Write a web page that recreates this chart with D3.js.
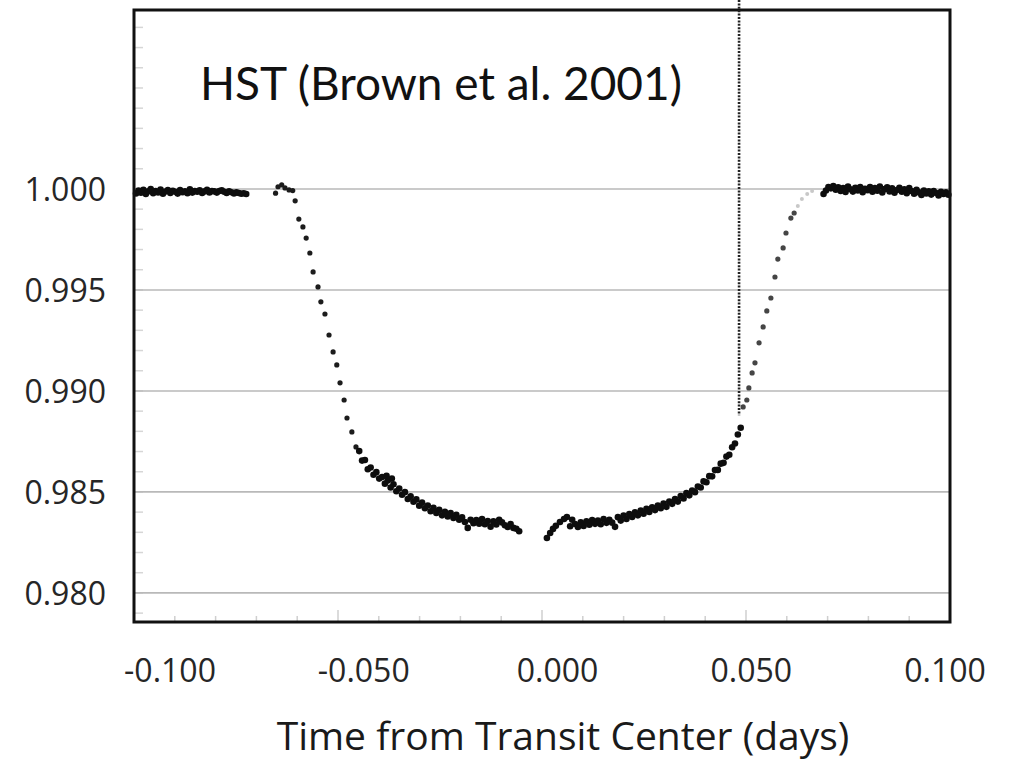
<!DOCTYPE html>
<html>
<head>
<meta charset="utf-8">
<script src="https://cdn.jsdelivr.net/npm/d3@7"></script>
<style>
  body { margin: 0; background: #fff; }
  svg { display: block; }
  .tick-label { font-family: "Open Sans", sans-serif; font-size: 32px; fill: #262626; }
  .axis-title { font-family: "Open Sans", sans-serif; font-size: 39px; fill: #1a1a1a; }
  .panel-title { font-family: Lato, sans-serif; font-size: 46px; fill: #111; }
</style>
</head>
<body>
<div id="chart"></div>
<script>
// tick values
const xTicks = [-0.1, -0.05, 0, 0.05, 0.1];
const yTicks = [0.980, 0.985, 0.990, 0.995, 1.000];

// marker (dotted line) at time / flux where it meets the curve
const markerTime = 0.0483;
const markerFlux = 0.9888;

// HST visit 1: out of transit before ingress [time, flux]
const preTransit = [
  [-0.0995, 0.99978], [-0.0989, 0.99992], [-0.0983, 0.99981], [-0.0977, 0.99996], [-0.0971, 0.99975],
  [-0.0965, 0.99988], [-0.0959, 0.99999], [-0.0953, 0.99979], [-0.0947, 0.99990], [-0.0941, 0.99983],
  [-0.0935, 0.99997], [-0.0929, 0.99976], [-0.0923, 0.99987], [-0.0917, 0.99994], [-0.0911, 0.99980],
  [-0.0905, 0.99991], [-0.0899, 0.99986], [-0.0893, 0.99977], [-0.0887, 0.99995], [-0.0881, 0.99984],
  [-0.0875, 0.99989], [-0.0869, 0.99979], [-0.0863, 0.99998], [-0.0857, 0.99982], [-0.0851, 0.99990],
  [-0.0845, 0.99986], [-0.0839, 0.99993], [-0.0833, 0.99980], [-0.0827, 0.99988], [-0.0821, 0.99996],
  [-0.0815, 0.99983], [-0.0809, 0.99990], [-0.0803, 0.99988], [-0.0797, 0.99982], [-0.0791, 0.99990],
  [-0.0785, 0.99993], [-0.0779, 0.99986], [-0.0773, 0.99980], [-0.0767, 0.99988], [-0.0761, 0.99984],
  [-0.0755, 0.99978], [-0.0749, 0.99983], [-0.0743, 0.99980], [-0.0737, 0.99976], [-0.0731, 0.99979],
  [-0.0725, 0.99975]
];

// HST visit 2: short bump, ingress and first half of the bottom
const ingress = [
  [-0.0653, 0.99979], [-0.0647, 1.00011], [-0.0638, 1.00020], [-0.0630, 1.00005], [-0.0620, 0.99995],
  [-0.0611, 0.99992], [-0.0605, 0.99941], [-0.0596, 0.99851], [-0.0586, 0.99812], [-0.0578, 0.99757],
  [-0.0569, 0.99683], [-0.0561, 0.99589], [-0.0549, 0.99515], [-0.0542, 0.99441], [-0.0532, 0.99381],
  [-0.0522, 0.99277], [-0.0512, 0.99193], [-0.0503, 0.99129], [-0.0495, 0.99040], [-0.0485, 0.98955],
  [-0.0478, 0.98866], [-0.0466, 0.98797], [-0.0456, 0.98723]
];
const bottomLeft = [
  [-0.0448, 0.98702], [-0.0441, 0.98655], [-0.0434, 0.98658], [-0.0427, 0.98612], [-0.0420, 0.98621],
  [-0.0413, 0.98585], [-0.0406, 0.98598], [-0.0399, 0.98566], [-0.0392, 0.98574], [-0.0385, 0.98541],
  [-0.0381, 0.98580], [-0.0378, 0.98556], [-0.0371, 0.98522], [-0.0368, 0.98566], [-0.0364, 0.98538],
  [-0.0357, 0.98503], [-0.0350, 0.98517], [-0.0343, 0.98486], [-0.0336, 0.98499], [-0.0329, 0.98465],
  [-0.0322, 0.98478], [-0.0315, 0.98451], [-0.0308, 0.98463], [-0.0301, 0.98432], [-0.0294, 0.98447],
  [-0.0287, 0.98419], [-0.0280, 0.98433], [-0.0273, 0.98404], [-0.0266, 0.98421], [-0.0259, 0.98396],
  [-0.0252, 0.98411], [-0.0245, 0.98384], [-0.0238, 0.98401], [-0.0231, 0.98378], [-0.0224, 0.98395],
  [-0.0217, 0.98371], [-0.0210, 0.98387], [-0.0203, 0.98362], [-0.0196, 0.98374], [-0.0189, 0.98351],
  [-0.0182, 0.98322], [-0.0175, 0.98362], [-0.0168, 0.98345], [-0.0161, 0.98361], [-0.0154, 0.98343],
  [-0.0147, 0.98366], [-0.0140, 0.98340], [-0.0133, 0.98356], [-0.0126, 0.98328], [-0.0119, 0.98354],
  [-0.0112, 0.98339], [-0.0105, 0.98362], [-0.0098, 0.98349], [-0.0091, 0.98335], [-0.0084, 0.98326],
  [-0.0077, 0.98341], [-0.0070, 0.98322], [-0.0063, 0.98318], [-0.0056, 0.98305]
];

// HST visit 3: second half of the bottom and egress
const bottomRight = [
  [0.0012, 0.98272], [0.0020, 0.98297], [0.0027, 0.98317], [0.0034, 0.98332], [0.0044, 0.98351],
  [0.0054, 0.98366], [0.0061, 0.98376], [0.0069, 0.98330], [0.0074, 0.98362], [0.0081, 0.98341],
  [0.0088, 0.98326], [0.0095, 0.98349], [0.0102, 0.98331], [0.0109, 0.98355], [0.0116, 0.98338],
  [0.0123, 0.98361], [0.0130, 0.98342], [0.0137, 0.98358], [0.0144, 0.98340], [0.0151, 0.98366],
  [0.0158, 0.98347], [0.0165, 0.98362], [0.0172, 0.98348], [0.0179, 0.98327], [0.0186, 0.98375],
  [0.0193, 0.98358], [0.0200, 0.98383], [0.0207, 0.98366], [0.0214, 0.98391], [0.0221, 0.98376],
  [0.0228, 0.98399], [0.0235, 0.98384], [0.0242, 0.98408], [0.0249, 0.98392], [0.0256, 0.98416],
  [0.0263, 0.98401], [0.0270, 0.98424], [0.0277, 0.98410], [0.0284, 0.98433], [0.0291, 0.98419],
  [0.0298, 0.98443], [0.0305, 0.98426], [0.0312, 0.98452], [0.0319, 0.98441], [0.0326, 0.98465],
  [0.0333, 0.98452], [0.0340, 0.98479], [0.0347, 0.98468], [0.0354, 0.98494], [0.0361, 0.98483],
  [0.0368, 0.98507], [0.0375, 0.98499], [0.0382, 0.98527], [0.0389, 0.98522], [0.0396, 0.98552],
  [0.0403, 0.98548], [0.0410, 0.98578], [0.0417, 0.98577], [0.0424, 0.98608], [0.0431, 0.98609],
  [0.0438, 0.98640], [0.0445, 0.98644], [0.0452, 0.98675], [0.0459, 0.98684], [0.0466, 0.98721],
  [0.0473, 0.98740], [0.0480, 0.98784], [0.0487, 0.98818]
];
const egress = [
  [0.0493, 0.98921], [0.0502, 0.98955], [0.0507, 0.99015], [0.0515, 0.99089], [0.0522, 0.99139],
  [0.0532, 0.99238], [0.0542, 0.99317], [0.0551, 0.99396], [0.0561, 0.99460], [0.0571, 0.99564],
  [0.0578, 0.99653], [0.0591, 0.99708], [0.0598, 0.99782], [0.0610, 0.99856], [0.0618, 0.99881]
];
// faint points at the top of egress
const egressFaint = [
  [0.0627, 0.99916], [0.0637, 0.99950], [0.0650, 0.99975], [0.0662, 0.99990]
];

// HST visit 4: out of transit after egress
const postTransit = [
  [0.0690, 0.99975], [0.0696, 0.99992], [0.0702, 1.00010], [0.0708, 1.00003], [0.0714, 1.00014],
  [0.0720, 0.99996], [0.0726, 1.00008], [0.0732, 0.99990], [0.0738, 1.00005], [0.0744, 0.99985],
  [0.0750, 1.00012], [0.0756, 0.99998], [0.0762, 0.99987], [0.0768, 1.00006], [0.0774, 0.99992],
  [0.0780, 1.00010], [0.0786, 0.99984], [0.0792, 1.00001], [0.0798, 0.99994], [0.0804, 1.00009],
  [0.0810, 0.99986], [0.0816, 1.00004], [0.0822, 0.99991], [0.0828, 1.00012], [0.0834, 0.99983],
  [0.0840, 0.99999], [0.0846, 1.00008], [0.0852, 0.99988], [0.0858, 1.00003], [0.0864, 0.99981],
  [0.0870, 0.99995], [0.0876, 1.00006], [0.0882, 0.99986], [0.0888, 0.99998], [0.0894, 0.99979],
  [0.0900, 1.00004], [0.0906, 0.99990], [0.0912, 0.99976], [0.0918, 0.99996], [0.0924, 0.99983],
  [0.0930, 0.99970], [0.0936, 0.99992], [0.0942, 0.99978], [0.0948, 0.99988], [0.0954, 0.99972],
  [0.0960, 0.99990], [0.0966, 0.99980], [0.0972, 0.99968], [0.0978, 0.99986], [0.0984, 0.99975],
  [0.0990, 0.99983], [0.0996, 0.99971]
];

class LightCurve {

  constructor(_config) {
    this.config = {
      parentElement: _config.parentElement,
      containerWidth: _config.containerWidth || 1009,
      containerHeight: _config.containerHeight || 760,
      margin: _config.margin || {top: 10, right: 59, bottom: 138, left: 134},
      dotRadius: 3.3
    };
    this.initVis();
  }

  initVis() {
    let vis = this;

    vis.width = vis.config.containerWidth - vis.config.margin.left - vis.config.margin.right;
    vis.height = vis.config.containerHeight - vis.config.margin.top - vis.config.margin.bottom;

    vis.svg = d3.select(vis.config.parentElement).append('svg')
        .attr('width', vis.config.containerWidth)
        .attr('height', vis.config.containerHeight);

    // slight blur so the dots look like the scanned figure
    vis.svg.append('defs').append('filter')
        .attr('id', 'soft')
      .append('feGaussianBlur')
        .attr('stdDeviation', 0.6);

    vis.chart = vis.svg.append('g')
        .attr('transform', `translate(${vis.config.margin.left},${vis.config.margin.top})`);

    vis.xScale = d3.scaleLinear().domain([-0.1, 0.1]).range([0, vis.width]);
    vis.yScale = d3.scaleLinear().domain([0.97856, 1.00886]).range([vis.height, 0]);
    // the tick labels in the figure sit a bit off the tick positions
    vis.xLabelScale = d3.scaleLinear().domain([-0.1, 0.1]).range([36, 811]);

    vis.fmt = d3.formatLocale({decimal: '.', thousands: ',', grouping: [3], currency: ['', ''], minus: '-'}).format('.3f');

    vis.renderVis();
  }

  renderVis() {
    let vis = this;
    const x = vis.xScale, y = vis.yScale;

    // faint minor ticks on the left and bottom edges
    vis.chart.append('g')
        .attr('class', 'minor-y')
      .selectAll('line')
        .data(d3.range(979, 1009).map(d => d / 1000))
      .join('line')
        .attr('x1', 0).attr('x2', 9)
        .attr('y1', d => y(d)).attr('y2', d => y(d))
        .attr('stroke', '#d6d6d6').attr('stroke-width', 1.5);

    vis.chart.append('g')
        .attr('class', 'minor-x')
      .selectAll('line')
        .data(d3.range(-10, 11).map(d => d / 100))
      .join('line')
        .attr('x1', d => x(d)).attr('x2', d => x(d))
        .attr('y1', vis.height)
        .attr('y2', (d, i) => vis.height - (i % 5 === 0 ? 12 : 6))
        .attr('stroke', '#cfcfcf').attr('stroke-width', 1.5);

    // horizontal gridlines
    vis.chart.append('g')
        .attr('class', 'grid')
      .selectAll('line')
        .data(yTicks)
      .join('line')
        .attr('x1', 0).attr('x2', vis.width)
        .attr('y1', d => y(d)).attr('y2', d => y(d))
        .attr('stroke', '#b9b9b9').attr('stroke-width', 1.6);

    // dotted marker line coming from above the panel
    vis.svg.append('line')
        .attr('x1', vis.config.margin.left + x(markerTime))
        .attr('x2', vis.config.margin.left + x(markerTime))
        .attr('y1', 0)
        .attr('y2', vis.config.margin.top + y(markerFlux))
        .attr('stroke', '#222')
        .attr('stroke-width', 2.6)
        .attr('stroke-dasharray', '2,1.4');

    vis.dots = vis.chart.append('g')
        .attr('filter', 'url(#soft)');

    const drawDots = (data, cls, color, r) => {
      vis.dots.append('g')
          .attr('class', cls)
        .selectAll('circle')
          .data(data)
        .join('circle')
          .attr('cx', d => x(d[0]))
          .attr('cy', d => y(d[1]))
          .attr('r', r)
          .attr('fill', color);
    };

    drawDots(preTransit, 'visit1', '#111', vis.config.dotRadius);
    drawDots(ingress, 'visit2-ingress', '#1c1c1c', 2.6);
    drawDots(bottomLeft, 'visit2-bottom', '#111', vis.config.dotRadius);
    drawDots(bottomRight, 'visit3-bottom', '#111', vis.config.dotRadius);
    drawDots(egress, 'visit3-egress', '#444', 2.6);
    drawDots(egressFaint, 'visit3-faint', '#c8c8c8', 2.0);
    drawDots(postTransit, 'visit4', '#111', vis.config.dotRadius);

    // frame
    vis.chart.append('rect')
        .attr('width', vis.width)
        .attr('height', vis.height)
        .attr('fill', 'none')
        .attr('stroke', '#111')
        .attr('stroke-width', 3);

    // y tick labels
    vis.chart.append('g')
        .attr('class', 'y-labels')
      .selectAll('text')
        .data(yTicks)
      .join('text')
        .attr('class', 'tick-label')
        .attr('x', -28)
        .attr('y', d => y(d))
        .attr('dy', '0.38em')
        .attr('text-anchor', 'end')
        .text(d => vis.fmt(d));

    // x tick labels
    vis.chart.append('g')
        .attr('class', 'x-labels')
      .selectAll('text')
        .data(xTicks)
      .join('text')
        .attr('class', 'tick-label')
        .attr('x', d => vis.xLabelScale(d))
        .attr('y', vis.height + 60)
        .attr('text-anchor', 'middle')
        .text(d => vis.fmt(d));

    vis.chart.append('text')
        .attr('class', 'axis-title')
        .attr('x', 429)
        .attr('y', vis.height + 128)
        .attr('text-anchor', 'middle')
        .text('Time from Transit Center (days)');

    vis.chart.append('text')
        .attr('class', 'panel-title')
        .attr('x', 66)
        .attr('y', 90)
        .text('HST (Brown et al. 2001)');
  }
}

new LightCurve({parentElement: '#chart'});
</script>
</body>
</html>
